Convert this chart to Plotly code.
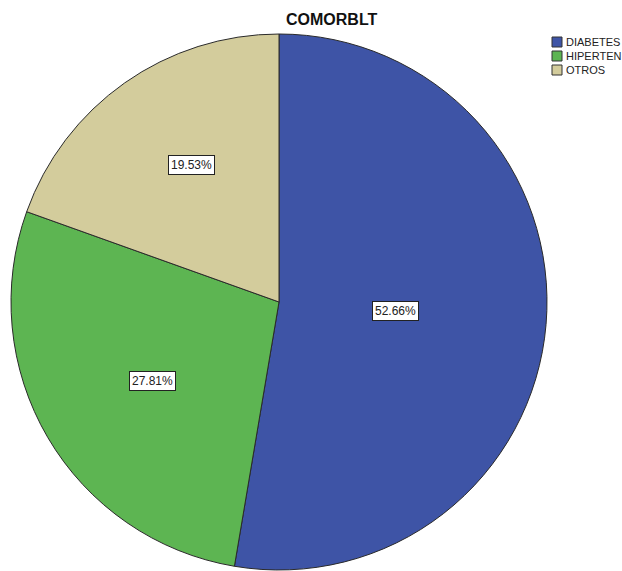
import math
import plotly.graph_objects as go

categories = ["DIABETES", "HIPERTEN", "OTROS"]
values = [52.66, 27.81, 19.53]
colors = ["#3E54A6", "#5DB552", "#D3CC9C"]
title_text = "COMORBLT"

W, H = 622, 571
cx_px, cy_px, R_px = 279, 302, 268

dom_x = [(cx_px - R_px) / W, (cx_px + R_px) / W]
dom_y = [(H - (cy_px + R_px)) / H, (H - (cy_px - R_px)) / H]

fig = go.Figure(go.Pie(
    labels=categories,
    values=values,
    marker=dict(colors=colors, line=dict(color="#2A2A2A", width=1)),
    sort=False,
    direction="clockwise",
    rotation=0,
    textinfo="none",
    hoverinfo="label+percent",
    domain=dict(x=dom_x, y=dom_y),
    showlegend=False,
))

annotations = []
total = sum(values)
start = 0.0
for lab, v in zip(categories, values):
    frac = v / total
    half = frac * math.pi  # half-angle in radians
    mid = (start + frac / 2) * 2 * math.pi  # clockwise from top
    rc = 2 * R_px * math.sin(half) / (3 * half)
    px = cx_px + rc * math.sin(mid)
    py = cy_px - rc * math.cos(mid)
    annotations.append(dict(
        x=px / W, y=(H - py) / H, xref="paper", yref="paper",
        text=f"{v:.2f}%", showarrow=False, xshift=9,
        font=dict(family="Liberation Sans, Arial", size=12, color="#222222"),
        bgcolor="white", bordercolor="#222222", borderwidth=1, borderpad=2,
        xanchor="center", yanchor="middle",
    ))
    start += frac

# title
annotations.append(dict(
    x=331 / W, y=(H - 19) / H, xref="paper", yref="paper",
    text=f"<b>{title_text}</b>", showarrow=False,
    font=dict(family="Liberation Sans, Arial", size=16, color="#111111"),
    xanchor="center", yanchor="middle",
))

# custom legend
shapes = []
for i, (lab, col) in enumerate(zip(categories, colors)):
    yc = 42 + i * 14
    shapes.append(dict(
        type="rect", xref="paper", yref="paper",
        x0=552 / W, x1=562 / W, y0=(H - (yc + 5)) / H, y1=(H - (yc - 5)) / H,
        fillcolor=col, line=dict(color="#333333", width=1),
    ))
    annotations.append(dict(
        x=564 / W, y=(H - yc) / H, xref="paper", yref="paper",
        text=lab, showarrow=False,
        font=dict(family="Liberation Sans, Arial", size=11, color="#222222"),
        xanchor="left", yanchor="middle",
    ))

fig.update_layout(
    width=W, height=H,
    margin=dict(l=0, r=0, t=0, b=0),
    paper_bgcolor="white", plot_bgcolor="white",
    annotations=annotations, shapes=shapes,
)

fig.write_html("out.html")
